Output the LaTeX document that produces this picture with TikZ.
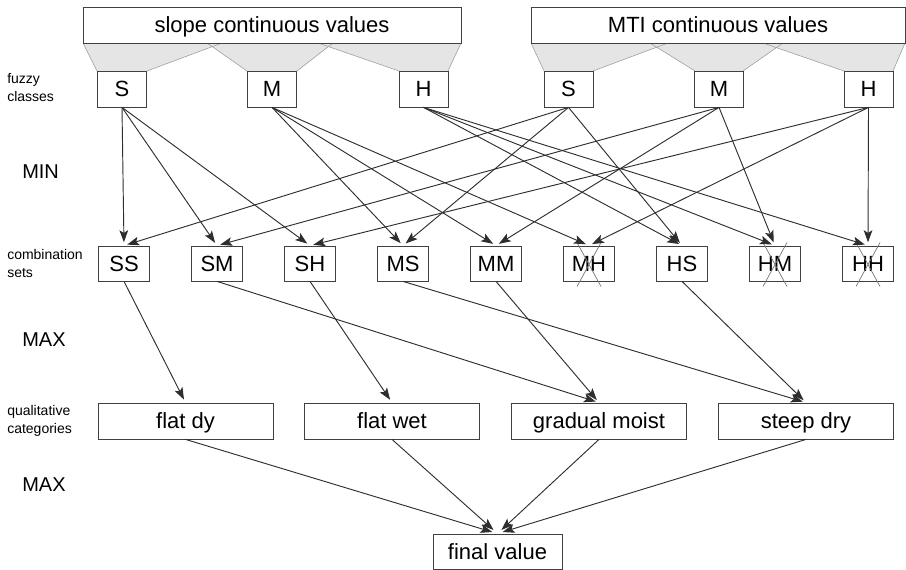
\documentclass[tikz,border=0pt]{standalone}
\usepackage{fontspec}
\setmainfont{Liberation Sans}
\usepackage{tikz}
\usetikzlibrary{positioning, calc, arrows.meta}

\begin{document}
\begin{tikzpicture}[x=0.75pt, y=-0.75pt,
box/.style={draw=black!75, line width=0.6pt, fill=white, inner sep=0pt, text height=11.8pt, text depth=0pt, font=\fontsize{16.5}{18}\selectfont},
fuzzybox/.style={box, minimum width=36.75pt, minimum height=27pt},
combbox/.style={box, minimum width=38.25pt, minimum height=26.25pt},
catbox/.style={box, minimum width=131.25pt, minimum height=27pt},
rowlabel/.style={anchor=west, align=left, inner sep=0pt, font=\fontsize{10.5}{13.5}\selectfont},
oplabel/.style={anchor=west, inner sep=0pt, font=\fontsize{15}{18}\selectfont},
arr/.style={draw=black!82, line width=0.7pt, -{Stealth[length=9pt, width=6.5pt, inset=2pt]}, shorten >=2.5pt},
xmark/.style={draw=black!55, line width=0.5pt}]

\useasboundingbox (0,0) rectangle (906,570);

%//membership ranges under the two inputs
\foreach \a/\b/\c/\d in {83/222/147/97, 207/333/297/247, 318/461/448/399, 531/668/593/544, 650/783/743/695, 763/905/893/844}
\fill [black!10] (\a,43) -- (\b,43) -- (\c,71) -- (\d,71) -- cycle;
\foreach \a/\b/\c/\d in {83/222/147/97, 207/333/297/247, 318/461/448/399, 531/668/593/544, 650/783/743/695, 763/905/893/844}
\draw [black!40, line width=0.4pt] (\a,43) -- (\d,71) (\b,43) -- (\c,71);

\node [box, minimum width=283.5pt, minimum height=27pt] (slope) at (272,25) {slope continuous values};
\node [box, minimum width=280.5pt, minimum height=27pt] (mti) at (718,25) {MTI continuous values};

%//fuzzy classes
\foreach \x/\n/\val in {122/sS/S, 272/sM/M, 423.5/sH/H, 568.5/mS/S, 719/mM/M, 868.5/mH/H}
\node [fuzzybox] (\n) at (\x,89) {\val};

%//combination sets
\foreach \n [count=\i from 0] in {SS,SM,SH,MS,MM,MH,HS,HM,HH}
\node [combbox] (\n) at (124+93*\i, 263.5) {\n};

\foreach \n in {MH,HM,HH}
\draw [xmark] ($(\n)+(-12,-21)$) -- ($(\n)+(12,23)$) ($(\n)+(12,-21)$) -- ($(\n)+(-12,23)$);

\foreach \a/\b in {sS/SS, sS/SM, sS/SH, sM/MS, sM/MM, sM/MH, sH/HS, sH/HM, sH/HH, mS/SS, mS/MS, mS/HS, mM/SM, mM/MM, mM/HM, mH/SH, mH/MH, mH/HH}
\draw [arr] (\a.south) -- (\b.north);

%//qualitative categories
\foreach \n/\x/\val in {flatdy/185.5/flat dy, flatwet/392/flat wet, gradual/599/gradual moist, steep/806/steep dry}
\node [catbox] (\n) at (\x,421) {\val};

\foreach \a/\b in {SS/flatdy, SH/flatwet, SM/gradual, MM/gradual, MS/steep, HS/steep}
\draw [arr] (\a.south) -- (\b.north);

\node [box, minimum width=96.75pt, minimum height=26.25pt] (final) at (497.5,551.5) {final value};

\foreach \a in {flatdy, flatwet, gradual, steep}
\draw [arr, shorten >=4pt] (\a.south) -- (final.north);

%//row labels on the left
\foreach \n/\y/\val in {fuzzylab/88/{fuzzy\\classes}, comblab/263/{combination\\sets}, catlab/421/{qualitative\\categories}}
\node [rowlabel] (\n) at (7,\y) {\val};

\foreach \n/\y/\val in {minlab/172/MIN, maxlab/340/MAX, maxlabb/485/MAX}
\node [oplabel] (\n) at (22,\y) {\val};

\end{tikzpicture}
\end{document}
